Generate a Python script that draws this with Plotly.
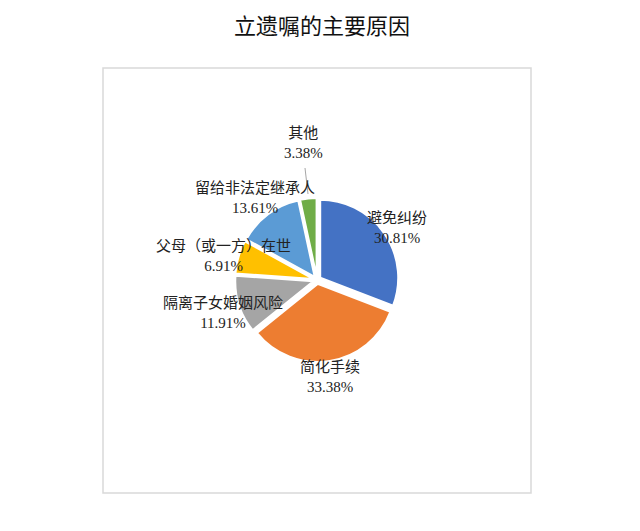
import plotly.graph_objects as go

# 页面有 8px 的默认边距
OFF = 8
W, H = 640 - OFF, 531 - OFF

# 数据
reasons = ["避免纠纷", "简化手续", "隔离子女婚姻风险", "父母（或一方）在世", "留给非法定继承人", "其他"]
shares = [30.81, 33.38, 11.91, 6.91, 13.61, 3.38]
colors = ["#4472C4", "#ED7D31", "#A5A5A5", "#FFC000", "#5B9BD5", "#70AD47"]

# 标签位置 (截图像素, 左上为原点)
label_pos = [(397, 228), (330, 377), (223, 312), (223, 256), (255, 198), (303, 143)]

def px(x, y):
    return (x - OFF) / W, 1 - (y - OFF) / H

# 饼图位置
cx, cy, r, pull = 317, 280, 78, 0.05
half = r * (1 + pull)
x0, y0 = px(cx - half, cy + half)
x1, y1 = px(cx + half, cy - half)

fig = go.Figure()
fig.add_trace(go.Pie(
    labels=reasons,
    values=shares,
    sort=False,
    direction="clockwise",
    rotation=0,
    pull=pull,
    marker=dict(colors=colors, line=dict(color="white", width=2)),
    textinfo="none",
    hoverinfo="label+percent",
    domain=dict(x=[x0, x1], y=[y0, y1]),
    showlegend=False,
))

annotations = []
for name, val, (x, y) in zip(reasons, shares, label_pos):
    ax, ay = px(x, y)
    annotations.append(dict(
        x=ax, y=ay, xref="paper", yref="paper",
        text="{}<br>{:.2f}%".format(name, val),
        showarrow=False, xanchor="center", yanchor="middle",
        font=dict(family="Liberation Serif, Noto Sans CJK SC", size=15, color="#222222"),
    ))
tx, ty = px(322, 24)
annotations.append(dict(
    x=tx, y=ty, xref="paper", yref="paper", text="立遗嘱的主要原因",
    showarrow=False, xanchor="center", yanchor="middle", borderpad=0,
    font=dict(family="Noto Sans CJK SC", size=22, color="#111111"),
))

bx0, by0 = px(103, 68)
bx1, by1 = px(531, 493)
lx0, ly0 = px(305, 168)
lx1, ly1 = px(308, 194)
shapes = [
    dict(type="rect", xref="paper", yref="paper", x0=bx0, y0=by1, x1=bx1, y1=by0,
         line=dict(color="#d9d9d9", width=1.5), fillcolor="rgba(0,0,0,0)"),
    dict(type="line", xref="paper", yref="paper", x0=lx0, y0=ly0, x1=lx1, y1=ly1,
         line=dict(color="#a6a6a6", width=1)),
]

fig.update_layout(
    width=W, height=H,
    margin=dict(l=0, r=0, t=0, b=0),
    paper_bgcolor="white",
    plot_bgcolor="white",
    annotations=annotations,
    shapes=shapes,
)
fig.write_html("out.html")
